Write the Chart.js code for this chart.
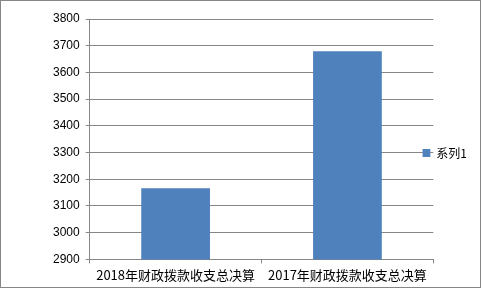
<!DOCTYPE html>
<html>
<head>
<meta charset="utf-8">
<script src="https://cdn.jsdelivr.net/npm/chart.js@4/dist/chart.umd.min.js"></script>
<style>
  html, body { margin: 0; padding: 0; background: #fff; }
  #wrap { width: 482px; height: 290px; }
</style>
</head>
<body>
<div id="wrap"><canvas id="budgetChart" width="482" height="290"></canvas></div>
<script>
// chart data
const categories = ['2018年财政拨款收支总决算', '2017年财政拨款收支总决算'];
const seriesName = '系列1';
const seriesValues = [3166, 3679];
const yTicks = [2900, 3000, 3100, 3200, 3300, 3400, 3500, 3600, 3700, 3800];

const gridGray = '#868686';

// outer frame like the original chart box
const framePlugin = {
    id: 'frame',
    beforeDraw(chart) {
        const ctx = chart.ctx;
        ctx.save();
        ctx.fillStyle = '#fff';
        ctx.fillRect(0, 0, chart.width, chart.height);
        ctx.strokeStyle = gridGray;
        ctx.lineWidth = 1;
        ctx.strokeRect(0.5, 0.5, 480, 287);
        ctx.restore();
    }
};

// legend overlaps the plot edge a bit in the original
const legendShift = {
    id: 'legendShift',
    afterLayout(chart) {
        const lg = chart.legend;
        if (lg) {
            lg.left -= 11;
            lg.right -= 11;
        }
    }
};

const ctx = document.getElementById('budgetChart').getContext('2d');
new Chart(ctx, {
    type: 'bar',
    data: {
        labels: categories,
        datasets: [{
            label: seriesName,
            data: seriesValues,
            backgroundColor: '#4F81BD',
            borderWidth: 0,
            barPercentage: 0.4,
            categoryPercentage: 1
        }]
    },
    options: {
        responsive: false,
        animation: false,
        layout: {
            padding: { left: 47, top: 19, right: -6, bottom: 3 }
        },
        plugins: {
            legend: {
                position: 'right',
                labels: {
                    boxWidth: 8,
                    boxHeight: 8,
                    padding: 0,
                    color: '#000',
                    font: { family: 'Noto Sans CJK SC', size: 12 }
                }
            },
            tooltip: { enabled: false }
        },
        scales: {
            x: {
                offset: true,
                grid: {
                    offset: true,
                    drawOnChartArea: false,
                    drawTicks: true,
                    tickLength: 4,
                    color: gridGray
                },
                border: { color: gridGray },
                ticks: {
                    color: '#000',
                    padding: 4,
                    maxRotation: 0,
                    autoSkip: false,
                    font: { family: 'Noto Sans CJK SC', size: 13 }
                }
            },
            y: {
                min: yTicks[0],
                max: yTicks[yTicks.length - 1],
                afterBuildTicks(axis) {
                    axis.ticks = yTicks.map(v => ({ value: v }));
                },
                grid: {
                    color: gridGray,
                    tickLength: 4
                },
                border: { color: gridGray },
                ticks: {
                    color: '#000',
                    padding: 6,
                    callback: v => String(v),
                    font: { family: 'Liberation Sans', size: 12 }
                }
            }
        }
    },
    plugins: [framePlugin, legendShift]
});
</script>
</body>
</html>
